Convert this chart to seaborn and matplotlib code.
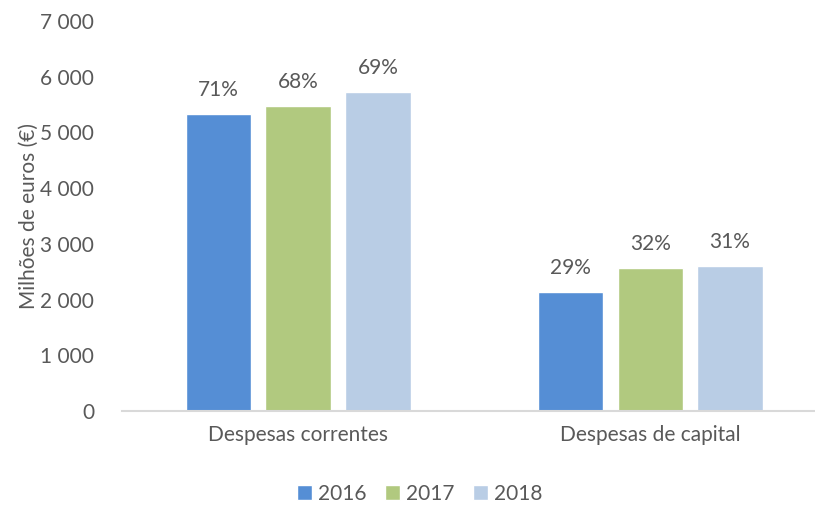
import matplotlib
matplotlib.use("Agg")
import matplotlib.pyplot as plt
import seaborn as sns
import pandas as pd
from matplotlib.ticker import FuncFormatter
from matplotlib.patches import Patch

# Despesas por tipo (milhões de euros)
categorias = ["Despesas correntes", "Despesas de capital"]
anos = ["2016", "2017", "2018"]
correntes = [5326, 5480, 5731]
capital = [2136, 2561, 2608]
cores = ["#558ED5", "#B1C97F", "#B9CDE5"]

df = pd.DataFrame({
    "categoria": [categorias[0]] * 3 + [categorias[1]] * 3,
    "ano": anos + anos,
    "valor": correntes + capital,
})
totais = {a: c + k for a, c, k in zip(anos, correntes, capital)}

sns.set_theme(style="white")
plt.rcParams["font.family"] = ["Lato", "DejaVu Sans"]
texto = "#595959"
fs = 15

fig = plt.figure(figsize=(8.15, 5.07), dpi=100)
ax = fig.add_axes([122 / 815, 96 / 507, 692 / 815, 390 / 507])

sns.barplot(data=df, x="categoria", y="valor", hue="ano", order=categorias,
            hue_order=anos, palette=cores, width=0.68, gap=0.18,
            saturation=1, legend=False, ax=ax)

# Rótulos com a percentagem de cada tipo no total do ano
for cont, ano in zip(ax.containers, anos):
    rotulos = [f"{round(100 * b.get_height() / totais[ano]):d}%" for b in cont]
    ax.bar_label(cont, labels=rotulos, padding=10, fontsize=fs, color=texto)

ax.set_ylim(0, 7000)
ax.set_xlim(-0.5, 1.465)
ax.set_yticks(range(0, 7001, 1000))
ax.yaxis.set_major_formatter(FuncFormatter(lambda v, p: f"{int(v):,}".replace(",", " ")))
ax.tick_params(axis="y", labelsize=fs, labelcolor=texto, length=0, pad=20)
ax.tick_params(axis="x", labelsize=fs, labelcolor=texto, length=0, pad=10)
ax.set_xlabel("")
ax.set_ylabel("Milhões de euros (€)", fontsize=fs, color=texto, labelpad=1)

for lado in ["top", "right", "left"]:
    ax.spines[lado].set_visible(False)
ax.spines["bottom"].set_color("#D9D9D9")
ax.spines["bottom"].set_linewidth(1.5)

handles = [Patch(facecolor=c, label=a) for c, a in zip(cores, anos)]
fig.legend(handles=handles, loc="center", bbox_to_anchor=(420 / 815, 1 - 494 / 507),
           ncol=3, frameon=False, fontsize=fs, labelcolor=texto,
           handlelength=0.7, handleheight=0.7, handletextpad=0.3, columnspacing=0.9)

fig.savefig("out.png", dpi=100)
